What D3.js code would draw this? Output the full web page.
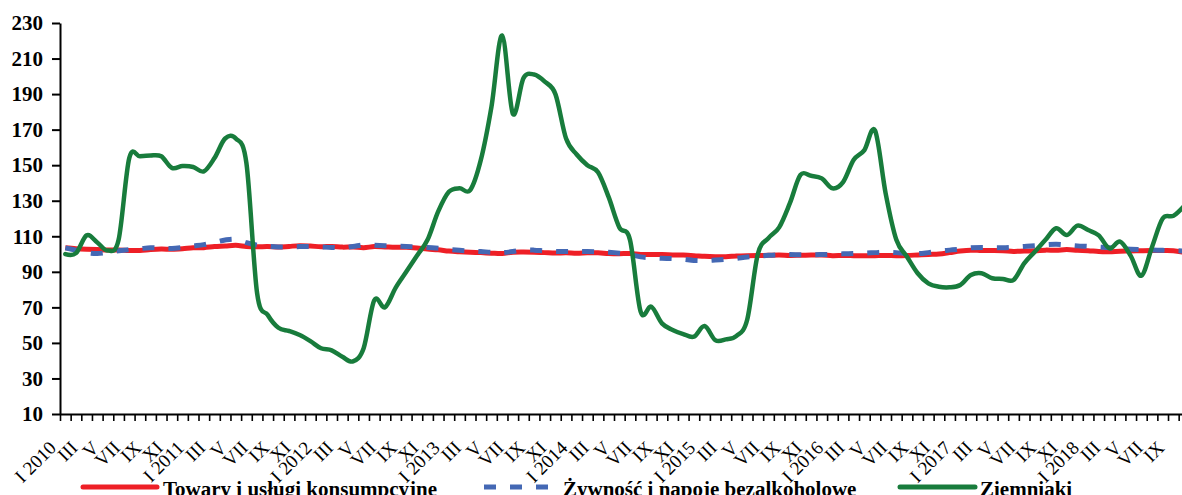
<!DOCTYPE html>
<html>
<head>
<meta charset="utf-8">
<script src="https://cdn.jsdelivr.net/npm/d3@7"></script>
<style>
  body { margin: 0; background: #fff; }
  text { font-family: "Liberation Serif", "Times New Roman", serif; }
</style>
</head>
<body>
<div id="chart"></div>
<script>
// months as roman numerals, january also carries the year
var monthNames = ["I","II","III","IV","V","VI","VII","VIII","IX","X","XI","XII"];
var years = [2010, 2011, 2012, 2013, 2014, 2015, 2016, 2017, 2018];
var nMonths = 106; // I 2010 .. X 2018

var yTicks = [10, 30, 50, 70, 90, 110, 130, 150, 170, 190, 210, 230];

// Towary i usługi konsumpcyjne
var towary = [
  103.5, 103.0, 102.7, 102.5, 102.3, 102.3, 102.0, 102.0, 102.5, 102.8, 102.7, 103.0,
  103.5, 103.6, 104.2, 104.5, 104.9, 104.3, 104.1, 104.2, 103.9, 104.3, 104.7, 104.5,
  104.1, 104.3, 103.9, 104.0, 103.6, 104.2, 104.0, 103.8, 103.8, 103.4, 102.8, 102.4,
  101.7, 101.3, 101.0, 100.8, 100.5, 100.3, 101.0, 101.1, 101.0, 100.8, 100.6, 100.7,
  100.5, 100.7, 100.7, 100.3, 100.2, 100.3, 99.8, 99.7, 99.7, 99.5, 99.4, 99.1,
  98.7, 98.5, 98.5, 98.9, 99.1, 99.2, 99.3, 99.4, 99.2, 99.3, 99.4, 99.5,
  99.1, 99.2, 99.1, 99.0, 99.1, 99.2, 99.1, 99.2, 99.5, 99.8, 100.0, 100.8,
  101.7, 102.2, 102.0, 102.0, 101.9, 101.5, 101.7, 101.8, 102.2, 102.1, 102.5, 102.1,
  101.9, 101.4, 101.3, 101.6, 101.7, 101.9, 102.0, 102.0, 101.9, 101.0
];

// Żywność i napoje bezalkoholowe
var zywnosc = [
  103.5, 102.2, 100.8, 100.3, 100.9, 101.8, 102.5, 103.0, 103.5, 103.3, 103.1, 103.7,
  104.5, 105.3, 106.6, 107.9, 108.3, 106.4, 105.0, 104.4, 104.0, 104.0, 104.2, 104.3,
  104.0, 103.7, 103.6, 104.2, 105.2, 105.0, 104.7, 104.5, 104.2, 104.0, 103.7, 103.2,
  102.6, 102.1, 101.7, 101.4, 101.0, 100.8, 101.4, 102.2, 102.2, 101.8, 101.5, 101.4,
  101.4, 101.4, 101.2, 101.0, 100.5, 99.7, 98.4, 97.9, 97.6, 97.4, 97.0, 96.4,
  96.3, 96.6, 97.0, 97.6, 98.3, 98.8, 99.3, 99.6, 99.7, 99.6, 99.6, 99.7,
  99.9, 100.1, 100.3, 100.5, 100.8, 101.1, 100.8, 100.4, 100.2, 100.8, 101.6, 102.2,
  102.8, 103.5, 103.7, 103.6, 103.6, 103.9, 104.3, 104.7, 105.2, 105.5, 105.1, 104.6,
  104.3, 103.9, 103.6, 103.1, 102.7, 102.5, 102.3, 102.1, 101.9, 101.7
];

// Ziemniaki
var ziemniaki = [
  100, 100.5, 110.5, 106.5, 102, 108, 154, 155, 155.5, 155, 148.5, 149.5,
  149, 146.5, 154, 165, 165, 151, 78, 65.7, 58.5, 56.7, 54.4, 51,
  47, 45.8, 42.2, 39.6, 47, 74, 70, 81, 90, 99, 108, 124,
  135, 137, 136, 153, 183, 223, 179, 199, 201, 197, 190, 165,
  156, 150, 146, 132, 115, 108, 67.6, 70.4, 61, 57.3, 55, 53.5,
  59.5, 51.6, 52, 54, 63, 100, 109, 115, 128.5, 144.5, 144, 142.6,
  137, 140.5, 153, 158.5, 169.5, 134, 108, 98.5, 89.2, 83.5, 81.6, 81.3,
  82.6, 88.2, 89.2, 86.4, 86, 85.4, 94.8, 101.3, 108, 114.5, 110.7, 116,
  113.5, 110.5, 103.2, 107, 99, 87.8, 104, 120, 121.5, 127
];

var seriesNames = ["Towary i usługi konsumpcyjne", "Żywność i napoje bezalkoholowe", "Ziemniaki"];
var seriesColors = ["#ee1f26", "#4468b4", "#187c3c"];

var categories = [];
years.forEach(function(y) {
  monthNames.forEach(function(m, k) {
    if (categories.length < nMonths) categories.push(k === 0 ? "I " + y : m);
  });
});

var svgWidth = 1182;
var svgHeight = 495;
var plotLeft = 60, plotTop = 23, plotBottom = 414;
var step = 10.654;

var svg = d3.select("#chart").append("svg")
    .attr("width", svgWidth).attr("height", svgHeight);

svg.append("rect").attr("width", svgWidth).attr("height", svgHeight).attr("fill", "#fff");

var x = d3.scaleBand()
    .domain(d3.range(nMonths))
    .range([plotLeft, plotLeft + nMonths * step])
    .padding(0);

// boundaries between months for the tick marks
var xEdge = d3.scaleLinear()
    .domain([0, nMonths])
    .range([plotLeft, plotLeft + nMonths * step]);

var y = d3.scaleLinear()
    .domain([10, 230])
    .range([plotBottom, plotTop]);

function cx(i) { return x(i) + x.bandwidth() / 2; }

// y axis
var yAxis = svg.append("g")
    .attr("transform", `translate(${plotLeft},0)`)
    .call(d3.axisLeft(y).tickValues(yTicks).tickSize(8).tickSizeOuter(0).tickPadding(9));
yAxis.select(".domain").attr("stroke", "#000").attr("stroke-width", 2);
yAxis.selectAll(".tick line").attr("stroke", "#000").attr("stroke-width", 2);
yAxis.selectAll(".tick text")
    .attr("fill", "#000")
    .style("font-family", "'Liberation Serif', serif")
    .style("font-size", "21px")
    .style("font-weight", "bold");

// x axis
var xAxis = svg.append("g")
    .attr("transform", `translate(0,${plotBottom})`)
    .call(d3.axisBottom(xEdge).tickValues(d3.range(0, nMonths + 1)).tickSize(7).tickSizeOuter(0).tickFormat(""));
xAxis.select(".domain").attr("stroke", "#000").attr("stroke-width", 2);
xAxis.selectAll(".tick line").attr("stroke", "#000").attr("stroke-width", 1.6);

// month labels every second month
svg.append("g").selectAll("text")
    .data(categories.map(function(c, i) { return {c: c, i: i}; }).filter(function(d) { return d.i % 2 === 0; }))
    .join("text")
    .attr("transform", function(d) { return `translate(${cx(d.i) - 8},449) rotate(-45)`; })
    .attr("text-anchor", "end")
    .style("font-size", "19px")
    .attr("fill", "#000")
    .text(function(d) { return d.c; });

// lines
var line = d3.line()
    .x(function(d, i) { return cx(i); })
    .y(function(d) { return y(d); })
    .curve(d3.curveCardinal.tension(0));

svg.append("path").datum(towary)
    .attr("d", line).attr("fill", "none")
    .attr("stroke", seriesColors[0]).attr("stroke-width", 5).attr("stroke-linejoin", "round");

svg.append("path").datum(zywnosc)
    .attr("d", line).attr("fill", "none")
    .attr("stroke", seriesColors[1]).attr("stroke-width", 5).attr("stroke-dasharray", "12,14");

svg.append("path").datum(ziemniaki)
    .attr("d", line).attr("fill", "none")
    .attr("stroke", seriesColors[2]).attr("stroke-width", 4.5)
    .attr("stroke-linejoin", "round").attr("stroke-linecap", "round");

// legend
var legendItems = [
  {x1: 83, x2: 157, tx: 163, dash: null},
  {x1: 484, x2: 550, tx: 563, dash: "12,14"},
  {x1: 900, x2: 975, tx: 980, dash: null}
];
var legend = svg.append("g");
legendItems.forEach(function(d, k) {
  legend.append("line")
      .attr("x1", d.x1).attr("x2", d.x2).attr("y1", 487).attr("y2", 487)
      .attr("stroke", seriesColors[k]).attr("stroke-width", 5)
      .attr("stroke-linecap", d.dash ? "butt" : "round")
      .attr("stroke-dasharray", d.dash);
  legend.append("text")
      .attr("x", d.tx).attr("y", 496)
      .style("font-size", "21px").style("font-weight", "bold")
      .attr("fill", "#000")
      .text(seriesNames[k]);
});
</script>
</body>
</html>
